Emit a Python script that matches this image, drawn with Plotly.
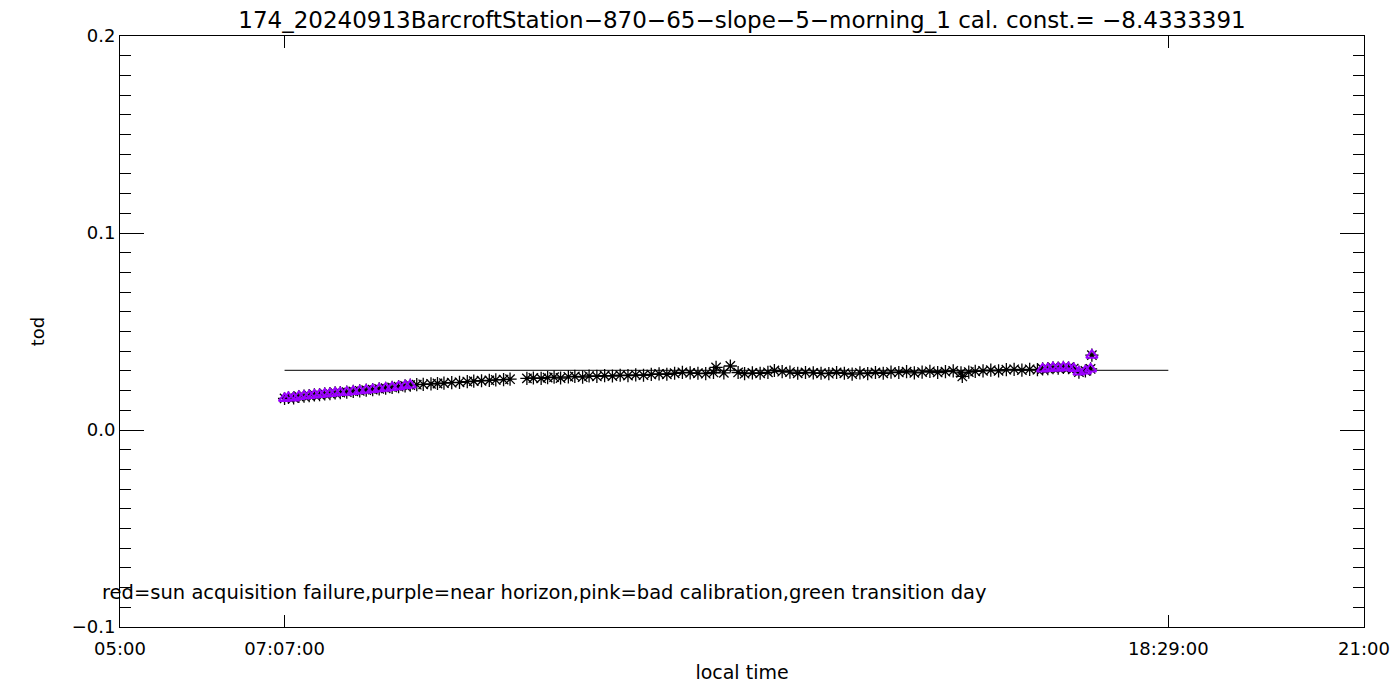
import plotly.graph_objects as go

# ---------------- data ----------------
times = ["07:07","07:10","07:14","07:18","07:22","07:26","07:30","07:34","07:38","07:42",
         "07:46","07:50","07:55","08:00","08:05","08:10","08:15","08:20","08:25","08:30",
         "08:35","08:40","08:44","08:49","08:54","09:00","09:05","09:10","09:16","09:22",
         "09:28","09:33","09:39","09:45","09:50","09:56","10:01","10:14","10:19","10:25",
         "10:30","10:35","10:40","10:46","10:51","10:57","11:02","11:08","11:14","11:20",
         "11:26","11:32","11:38","11:44","11:50","11:56","12:02","12:08","12:14","12:20",
         "12:26","12:32","12:38","12:40","12:46","12:51","12:57","13:02","13:08","13:14",
         "13:20","13:25","13:31","13:37","13:43","13:49","13:55","14:01","14:07","14:13",
         "14:19","14:25","14:31","14:37","14:43","14:49","14:55","15:01","15:07","15:13",
         "15:19","15:25","15:31","15:37","15:43","15:49","15:50","15:55","16:00","16:06",
         "16:12","16:18","16:24","16:30","16:36","16:42","16:48","16:52","16:56","17:00",
         "17:04","17:08","17:12","17:16","17:20","17:25","17:29","17:30"]
tod = [0.0160,0.0165,0.0163,0.0170,0.0172,0.0175,0.0178,0.0180,0.0183,0.0185,
       0.0188,0.0190,0.0192,0.0196,0.0199,0.0202,0.0205,0.0209,0.0212,0.0216,
       0.0220,0.0224,0.0228,0.0230,0.0232,0.0234,0.0236,0.0238,0.0240,0.0242,
       0.0246,0.0248,0.0250,0.0252,0.0254,0.0256,0.0258,0.0262,0.0264,0.0262,
       0.0266,0.0268,0.0264,0.0270,0.0272,0.0268,0.0274,0.0272,0.0276,0.0274,
       0.0278,0.0276,0.0280,0.0278,0.0282,0.0285,0.0283,0.0288,0.0293,0.0290,
       0.0288,0.0286,0.0292,0.0318,0.0290,0.0325,0.0292,0.0286,0.0290,0.0288,
       0.0293,0.0302,0.0296,0.0294,0.0288,0.0292,0.0290,0.0288,0.0286,0.0292,
       0.0288,0.0284,0.0290,0.0286,0.0292,0.0288,0.0294,0.0292,0.0296,0.0290,
       0.0294,0.0298,0.0292,0.0296,0.0300,0.0290,0.0272,0.0294,0.0298,0.0300,
       0.0304,0.0300,0.0306,0.0308,0.0304,0.0308,0.0306,0.0310,0.0312,0.0316,
       0.0314,0.0318,0.0316,0.0312,0.0294,0.0300,0.0310,0.0380]
near_horizon = ["07:07","07:10","07:14","07:18","07:22","07:26","07:30","07:34","07:38","07:42",
                "07:46","07:50","07:55","08:00","08:05","08:10","08:15","08:20","08:25","08:30",
                "08:35","08:40","08:44",
                "16:52","16:56","17:00","17:04","17:08","17:12","17:16","17:20","17:25","17:29","17:30"]
line_times = ["07:07", "18:29"]
line_tod = 0.0303
x_tick_labels = ["05:00", "07:07:00", "18:29:00", "21:00"]
y_tick_vals = [-0.1, 0.0, 0.1, 0.2]
y_tick_labels = ["\u22120.1", "0.0", "0.1", "0.2"]
title = "174_20240913BarcroftStation\u2212870\u221265\u2212slope\u22125\u2212morning_1 cal. const.= \u22128.4333391"
note = "red=sun acquisition failure,purple=near horizon,pink=bad calibration,green transition day"


def hrs(t):
    parts = [int(p) for p in t.split(":")]
    h = parts[0] + parts[1] / 60.0
    if len(parts) > 2:
        h += parts[2] / 3600.0
    return h


x = [hrs(t) for t in times]
ph_x = [hrs(t) for t in near_horizon]
ph_y = [tod[times.index(t)] for t in near_horizon]
x_tick_vals = [hrs(t) for t in x_tick_labels]

FONT = "DejaVu Sans"
OFF = 8  # page body offset
L, R, T, B = 120 - OFF, 36 + OFF, 36 - OFF, 73 + OFF
PW = 1400 - L - R

fig = go.Figure()
fig.add_trace(go.Scatter(x=[hrs(t) for t in line_times], y=[line_tod, line_tod], mode="lines",
                         line=dict(color="black", width=1), showlegend=False, hoverinfo="skip"))
fig.add_trace(go.Scatter(x=x, y=tod, mode="markers",
                         marker=dict(symbol="asterisk-open", size=11, color="black",
                                     line=dict(color="black", width=1.3)),
                         showlegend=False))
fig.add_trace(go.Scatter(x=ph_x, y=ph_y, mode="markers",
                         marker=dict(symbol="triangle-up-open", size=10, color="#9b00ff",
                                     line=dict(color="#9b00ff", width=2)),
                         showlegend=False))

fig.update_layout(
    width=1400, height=700,
    margin=dict(l=L, r=R, t=T, b=B, autoexpand=False),
    paper_bgcolor="white", plot_bgcolor="white",
    font=dict(family=FONT, size=19, color="black"),
    title=dict(text=title, x=(L + PW / 2) / 1400, xanchor="center", y=1 - (20 - OFF) / 700,
               yanchor="middle", font=dict(family=FONT, size=23, color="black")),
    xaxis=dict(range=[5, 21], tickvals=x_tick_vals, ticktext=x_tick_labels,
               ticks="inside", ticklen=12, tickwidth=1, tickcolor="black",
               showline=True, linecolor="black", linewidth=1, mirror="ticks",
               showgrid=False, zeroline=False, tickfont=dict(size=18),
               ticklabelstandoff=5,
               title=dict(text="local time", standoff=8, font=dict(family=FONT, size=19))),
    yaxis=dict(range=[-0.1, 0.2], tickvals=y_tick_vals, ticktext=y_tick_labels,
               ticks="inside", ticklen=24, tickwidth=1, tickcolor="black",
               minor=dict(dtick=0.01, ticks="inside", ticklen=11, tickwidth=1, tickcolor="black",
                          showgrid=False),
               showline=True, linecolor="black", linewidth=1, mirror="ticks",
               showgrid=False, zeroline=False, tickfont=dict(size=18),
               title=dict(text="tod", standoff=22, font=dict(family=FONT, size=18))),
    annotations=[dict(text=note, xref="paper", yref="y", x=-20 / PW, y=-0.0827,
                      xanchor="left", yanchor="middle", showarrow=False,
                      font=dict(family=FONT, size=19.5, color="black"))],
)

fig.write_html("out.html")
